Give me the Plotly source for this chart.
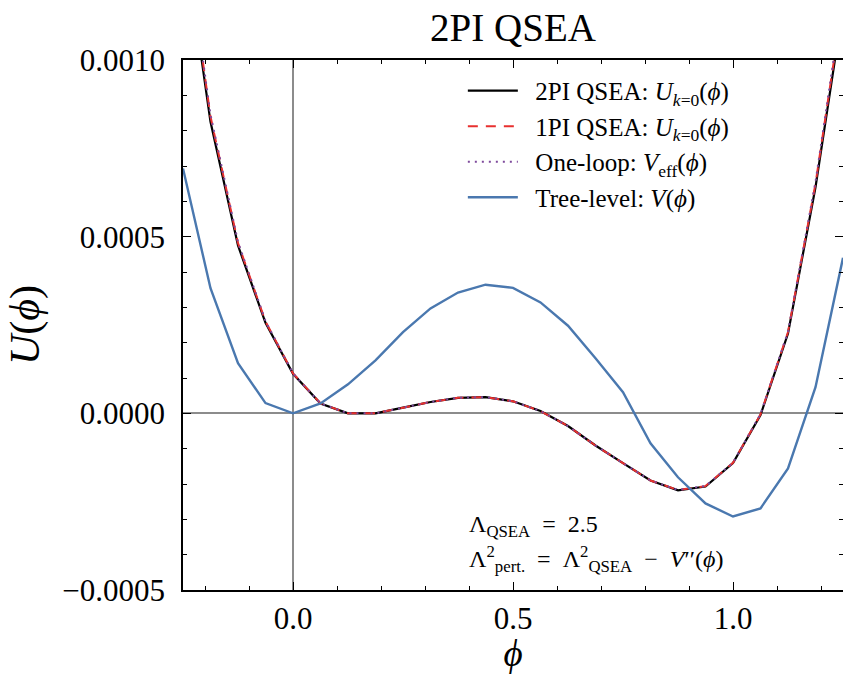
import plotly.graph_objects as go

# grid of field values
phi = [-0.25, -0.1875, -0.125, -0.0625, 0.0, 0.0625, 0.125, 0.1875, 0.25, 0.3125,
       0.375, 0.4375, 0.5, 0.5625, 0.625, 0.6875, 0.75, 0.8125, 0.875, 0.9375,
       1.0, 1.0625, 1.125, 1.1875, 1.25]

u_2pi = [1.37e-3, 8.25e-4, 4.75e-4, 2.56e-4, 1.12e-4, 2.8e-5, 0.0, 0.0, 1.6e-5, 3.2e-5,
         4.4e-5, 4.6e-5, 3.4e-5, 6.5e-6, -3.6e-5, -9.1e-5, -1.41e-4, -1.9e-4, -2.18e-4, -2.07e-4,
         -1.41e-4, -5e-6, 2.26e-4, 6.4e-4, 1.15e-3]

u_1pi = [1.40e-3, 8.40e-4, 4.82e-4, 2.60e-4, 1.13e-4, 2.8e-5, 0.0, 0.0, 1.6e-5, 3.2e-5,
         4.4e-5, 4.6e-5, 3.4e-5, 6.5e-6, -3.6e-5, -9.1e-5, -1.41e-4, -1.9e-4, -2.17e-4, -2.06e-4,
         -1.40e-4, -3e-6, 2.30e-4, 6.5e-4, 1.17e-3]

v_eff = [1.41e-3, 8.45e-4, 4.85e-4, 2.61e-4, 1.13e-4, 2.8e-5, 0.0, 0.0, 1.6e-5, 3.2e-5,
         4.4e-5, 4.6e-5, 3.4e-5, 6.5e-6, -3.6e-5, -9.1e-5, -1.41e-4, -1.9e-4, -2.17e-4, -2.06e-4,
         -1.40e-4, -2e-6, 2.31e-4, 6.55e-4, 1.18e-3]

v_tree = [6.93e-4, 3.54e-4, 1.42e-4, 2.9e-5, 0.0, 2.8e-5, 8.2e-5, 1.5e-4, 2.3e-4, 2.97e-4,
          3.42e-4, 3.64e-4, 3.55e-4, 3.14e-4, 2.48e-4, 1.56e-4, 6.0e-5, -8.5e-5, -1.81e-4, -2.55e-4,
          -2.92e-4, -2.69e-4, -1.56e-4, 7.4e-5, 4.4e-4]

x_ticks = [0.0, 0.5, 1.0]
x_ticklabels = ["0.0", "0.5", "1.0"]
y_ticks = [-0.0005, 0.0, 0.0005, 0.001]
y_ticklabels = ["\u22120.0005", "0.0000", "0.0005", "0.0010"]

names = [
    "\u20022PI QSEA: <i>U</i><sub><i>k</i>=0</sub>(<i>\u03d5</i>)",
    "\u20021PI QSEA: <i>U</i><sub><i>k</i>=0</sub>(<i>\u03d5</i>)",
    "\u2002One-loop: <i>V</i><sub>eff</sub>(<i>\u03d5</i>)",
    "\u2002Tree-level: <i>V</i>(<i>\u03d5</i>)",
]

note_lines = [
    "\u039b<sub>QSEA</sub>\u2002=\u20022.5",
    "\u039b<sup>2</sup><sub>pert.</sub>\u2002=\u2002\u039b<sup>2</sup><sub>QSEA</sub>"
    "\u2002\u2212\u2002<i>V</i>\u2032\u2032(<i>\u03d5</i>)",
]

FONT = "Liberation Serif"

fig = go.Figure()
fig.add_trace(go.Scatter(x=phi, y=u_2pi, mode="lines", name=names[0],
                         line=dict(color="#000000", width=2.2)))
fig.add_trace(go.Scatter(x=phi, y=u_1pi, mode="lines", name=names[1],
                         line=dict(color="#e8302f", width=2.0, dash="10px,8px")))
fig.add_trace(go.Scatter(x=phi, y=v_eff, mode="lines", name=names[2],
                         line=dict(color="#7e4a9c", width=2.0, dash="2px,5px")))
fig.add_trace(go.Scatter(x=phi, y=v_tree, mode="lines", name=names[3],
                         line=dict(color="#4a78af", width=2.4)))

axis_common = dict(
    automargin=False,
    showline=True, linecolor="black", linewidth=1.5, mirror="allticks",
    ticks="inside", ticklen=8, tickwidth=1.3, tickcolor="black",
    showgrid=False, zeroline=True, zerolinecolor="#8c8c8c", zerolinewidth=1.5,
    tickfont=dict(family=FONT, size=31, color="black"),
)

fig.update_xaxes(
    range=[-0.25, 1.25], tickvals=x_ticks, ticktext=x_ticklabels,
    minor=dict(ticks="inside", dtick=0.1, tick0=0, ticklen=4, tickwidth=1.1, tickcolor="black"),
    ticklabelstandoff=0,
    title=dict(text="<i>\u03d5</i>", font=dict(family=FONT, size=37, color="black"), standoff=2),
    **axis_common,
)
fig.update_yaxes(
    range=[-0.0005, 0.001], tickvals=y_ticks, ticktext=y_ticklabels,
    minor=dict(ticks="inside", dtick=0.0001, tick0=0, ticklen=4, tickwidth=1.1, tickcolor="black"),
    ticklabelstandoff=10,
    title=dict(text="<i>U</i>(<i>\u03d5</i>)", font=dict(family=FONT, size=42, color="black"), standoff=10),
    **axis_common,
)

fig.update_layout(
    width=843, height=674,
    margin=dict(l=183, r=0, t=60, b=84, autoexpand=False),
    paper_bgcolor="white", plot_bgcolor="white",
    title=dict(text="2PI QSEA", xref="container", yref="container",
               x=513 / 843, xanchor="center", y=1 - 27 / 674, yanchor="middle",
               font=dict(family=FONT, size=39, color="black")),
    legend=dict(x=0.424, y=0.985, xanchor="left", yanchor="top",
                itemwidth=50,
                bgcolor="rgba(0,0,0,0)", borderwidth=0,
                font=dict(family=FONT, size=25, color="black")),
    annotations=[
        dict(xref="paper", yref="paper", x=0.43, y=0.12, xanchor="left", yanchor="middle",
             align="left", showarrow=False, text=note_lines[0],
             font=dict(family=FONT, size=24, color="black")),
        dict(xref="paper", yref="paper", x=0.43, y=0.058, xanchor="left", yanchor="middle",
             align="left", showarrow=False, text=note_lines[1],
             font=dict(family=FONT, size=24, color="black")),
    ],
)

fig.write_html("out.html", config={"displayModeBar": False},
               post_script="document.body.style.margin='0';")
